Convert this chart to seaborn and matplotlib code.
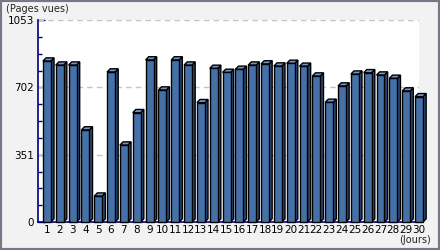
import matplotlib
matplotlib.use("Agg")
import matplotlib.pyplot as plt
import seaborn as sns
import pandas as pd
from matplotlib.patches import Polygon, Rectangle

days = [str(d) for d in range(1, 31)]
views = [839, 818, 818, 480, 135, 782, 401, 570, 845, 688,
         845, 818, 622, 801, 780, 796, 818, 824, 813, 827,
         812, 761, 624, 709, 771, 778, 766, 749, 683, 653]
yticks = [0, 351, 702, 1053]
ylabel = "(Pages vues)"
xlabel = "(Jours)"

df = pd.DataFrame({"jour": days, "vues": views})

sns.set_theme(style="white")
plt.rcParams["font.family"] = ["DejaVu Sans"]

W, H = 440, 250
fig = plt.figure(figsize=(W / 100, H / 100), dpi=100, facecolor="#f2f2f2")
# outer border
fig.add_artist(Rectangle((0, 0), 1, 1, transform=fig.transFigure, fill=False,
                         edgecolor="#767985", linewidth=3))

ax_l, ax_r, ax_b, ax_t = 38, 419, 28, 230
ax = fig.add_axes([ax_l / W, ax_b / H, (ax_r - ax_l) / W, (ax_t - ax_b) / H])
ax.set_facecolor("white")

front = "#4570a8"
side = "#2c4b7a"
top = "#7394c8"

sns.barplot(data=df, x="jour", y="vues", ax=ax, color=front, width=0.62,
            edgecolor="black", linewidth=1.0, saturation=1, zorder=3)

xlo, xhi = -0.693, 28.65
ax.set_xlim(xlo, xhi)
ax.set_ylim(0, 1053)

# 3D depth effect derived from bar patches
px_x = (xhi - xlo) / (ax_r - ax_l)
px_y = 1053 / (ax_t - ax_b - 0)
dpx = 3.2
dx, dy = dpx * px_x, dpx * px_y
for p in list(ax.patches):
    p.set_clip_on(False)
    x0, y0 = p.get_x(), p.get_y()
    w, h = p.get_width(), p.get_height()
    s = Polygon([(x0 + w, y0), (x0 + w + dx, y0 + dy), (x0 + w + dx, y0 + h + dy), (x0 + w, y0 + h)],
                closed=True, facecolor=side, edgecolor="black", linewidth=1.0, zorder=2.9, clip_on=False)
    t = Polygon([(x0, y0 + h), (x0 + dx, y0 + h + dy), (x0 + w + dx, y0 + h + dy), (x0 + w, y0 + h)],
                closed=True, facecolor=top, edgecolor="black", linewidth=1.0, zorder=2.9, clip_on=False)
    ax.add_patch(s)
    ax.add_patch(t)

for v in yticks[1:]:
    ax.axhline(v, color="#c4c4c4", linestyle=(0, (4, 3)), linewidth=1.0, zorder=1)

ax.set_yticks(yticks)
ax.set_yticks([i * 351 / 4 for i in range(13)], minor=True)
ax.set_yticklabels([str(v) for v in yticks], fontsize=7.5, color="black")
ax.tick_params(axis="y", which="major", direction="in", length=5, width=1, color="#000080", pad=3, left=True)
ax.tick_params(axis="y", which="minor", direction="in", length=3, width=1, color="#000080", left=True)
ax.set_xticks(range(len(days)))
ax.set_xticklabels(days, fontsize=7.5, color="black")
ax.tick_params(axis="x", which="major", length=0, pad=2)

for sp in ["top", "right"]:
    ax.spines[sp].set_visible(False)
ax.spines["left"].set_color("#000080")
ax.spines["bottom"].set_color("#000080")
ax.spines["left"].set_linewidth(1.2)
ax.spines["bottom"].set_linewidth(1.2)
ax.set_xlabel("")
ax.set_ylabel("")

fig.text(6 / W, 1 - 9 / H, ylabel, fontsize=7, va="center", ha="left")
fig.text(431 / W, 1 - 240 / H, xlabel, fontsize=7, va="center", ha="right")

fig.savefig("out.png", dpi=100, facecolor=fig.get_facecolor())
